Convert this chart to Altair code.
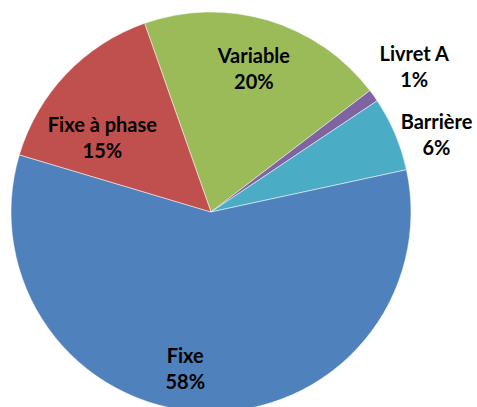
import math
import altair as alt
import pandas as pd

categories = ["Variable", "Livret A", "Barrière", "Fixe", "Fixe à phase"]
values = [20, 1, 6, 58, 15]
colors = ["#9BBB59", "#8064A2", "#4BACC6", "#4F81BD", "#C0504D"]

df = pd.DataFrame({
    "cat": categories,
    "val": values,
    "idx": list(range(len(categories))),
})

total = sum(values)
start = math.radians(340.6)
theta_scale = alt.Scale(domain=[0, total], range=[start, start + 2 * math.pi])

pie = alt.Chart(df).mark_arc(radius=200, stroke="white", strokeWidth=0.5).encode(
    theta=alt.Theta("val:Q", stack=True, scale=theta_scale),
    order=alt.Order("idx:Q"),
    x=alt.value(211),
    y=alt.value(212),
    color=alt.Color("cat:N", scale=alt.Scale(domain=categories, range=colors), legend=None),
)

def label(cat, r, dx, dy):
    return alt.Chart(df).transform_window(
        cum="sum(val)", sort=[alt.SortField("idx")], frame=[None, 0]
    ).transform_calculate(
        mid="datum.cum - datum.val / 2",
        lab="datum.cat + '\\n' + datum.val + '%'",
    ).transform_filter(alt.datum.cat == cat).mark_text(
        radius=r, dx=dx, dy=dy, font="Lato", fontWeight="bold", fontSize=20,
        lineBreak="\n", lineHeight=26, color="black", align="center", baseline="middle",
    ).encode(
        theta=alt.Theta("mid:Q", stack=None, scale=theta_scale),
        x=alt.value(211), y=alt.value(212), text="lab:N",
    )

layers = [
    pie,
    label("Variable", 150, 0, -11),
    label("Livret A", 245, 4, -14),
    label("Barrière", 245, 0, 7),
    label("Fixe", 150, -20, -5),
    label("Fixe à phase", 150, 0, 17),
]

chart = alt.layer(*layers).properties(
    width=477, height=407, padding=0, autosize=alt.AutoSizeParams(type="none")
).configure_view(stroke=None)

chart.save("out.html", embed_options={"renderer": "svg", "actions": False})
